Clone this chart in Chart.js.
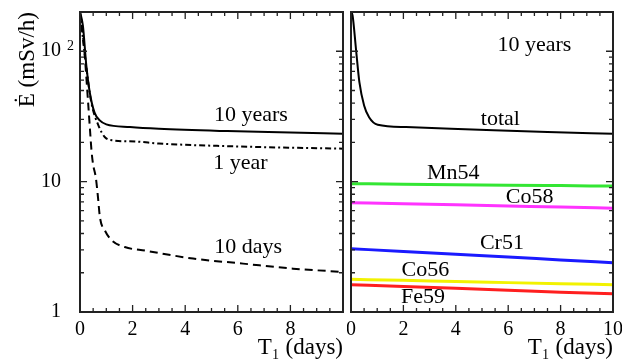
<!DOCTYPE html>
<html lang="en">
<head>
<meta charset="UTF-8">
<title>Dose rate vs T1</title>
<script src="https://cdn.jsdelivr.net/npm/chart.js@4.4.0/dist/chart.umd.min.js"></script>
<style>
  body { margin: 0; background: #fff; }
  .wrap { position: relative; width: 622px; height: 359px; overflow: hidden; }
  #left { position: absolute; left: 0; top: 0; }
  #right { position: absolute; left: 347px; top: 0; }
</style>
</head>
<body>
<div class="wrap">
  <canvas id="left" width="347" height="359"></canvas>
  <canvas id="right" width="275" height="359"></canvas>
</div>
<script>
// left panel: total dose rate after 10 years, 1 year, 10 days
const t10y = [0, 0.11, 0.24, 0.37, 0.55, 0.75, 1.0, 1.9, 3.0, 5.6, 8.0, 10];
const e10y = [200, 157, 78, 48.5, 34, 29.5, 27.5, 26.2, 25.4, 24.4, 23.8, 23.3];
const t1y = [0, 0.2, 0.43, 0.7, 0.95, 1.27, 2.1, 3.0, 5.6, 8.0, 10];
const e1y = [200, 88, 40.6, 27.0, 21.9, 20.7, 20.3, 19.6, 18.7, 18.2, 17.9];
const t10d = [0, 0.15, 0.31, 0.38, 0.44, 0.5, 0.6, 0.67, 0.76, 0.95, 1.2, 1.7, 2.5, 4.3, 6.2, 8.1, 10];
const e10d = [200, 110, 40, 25, 17, 13.5, 10.8, 8.1, 5.3, 4.2, 3.55, 3.15, 2.95, 2.57, 2.35, 2.15, 2.03];

// right panel: 10 years, total and nuclides
const tTot = [0, 0.06, 0.19, 0.32, 0.5, 0.69, 1.02, 2.1, 4.9, 7.5, 10];
const eTot = [200, 188, 104, 58, 38.4, 31.2, 27.3, 26.2, 25.0, 24.0, 23.3];
const tNuc = [0, 2, 4, 6, 8, 10];
const mn54 = [9.65, 9.55, 9.47, 9.40, 9.32, 9.24];
const co58 = [6.90, 6.77, 6.64, 6.51, 6.38, 6.26];
const cr51 = [3.06, 2.91, 2.77, 2.64, 2.51, 2.39];
const co56 = [1.78, 1.75, 1.71, 1.68, 1.65, 1.62];
const fe59 = [1.62, 1.57, 1.52, 1.47, 1.42, 1.38];

const yMajor = [1, 10, 100];
const yMinor = [2, 3, 4, 5, 6, 7, 8, 9, 20, 30, 40, 50, 60, 70, 80, 90, 200];
const xMajor = [0, 2, 4, 6, 8, 10];
const xMinor = [0.5, 1, 1.5, 2.5, 3, 3.5, 4.5, 5, 5.5, 6.5, 7, 7.5, 8.5, 9, 9.5];

// curve labels [text, x, y] in data units
const leftLabels = [['10 years', 6.5, 32.5], ['1 year', 6.1, 13.9], ['10 days', 6.39, 3.15]];
const rightLabels = [['10 years', 7.0, 112], ['total', 5.7, 30.3], ['Mn54', 3.9, 11.7],
  ['Co58', 6.82, 7.63], ['Cr51', 5.76, 3.38], ['Co56', 2.84, 2.10], ['Fe59', 2.75, 1.30]];

const serif = '"Liberation Serif", "DejaVu Serif", serif';
Chart.defaults.color = '#000';

function pts(xs, ys) {
  return xs.map((x, i) => ({ x: x, y: ys[i] }));
}

function frameTicks(labels, sup) {
  return {
    id: 'frameTicks',
    afterDatasetsDraw(chart) {
      const { ctx, chartArea: a, scales: { x, y } } = chart;
      ctx.save();
      ctx.strokeStyle = '#222';
      ctx.lineWidth = 1.3;
      ctx.beginPath();
      const xt = (v, len) => {
        const px = x.getPixelForValue(v);
        ctx.moveTo(px, a.bottom); ctx.lineTo(px, a.bottom - len);
        ctx.moveTo(px, a.top); ctx.lineTo(px, a.top + len);
      };
      const yt = (v, len) => {
        const py = y.getPixelForValue(v);
        ctx.moveTo(a.left, py); ctx.lineTo(a.left + len, py);
        ctx.moveTo(a.right, py); ctx.lineTo(a.right - len, py);
      };
      xMajor.forEach(v => xt(v, 7));
      xMinor.forEach(v => xt(v, 4));
      yMajor.forEach(v => yt(v, 7));
      yMinor.forEach(v => yt(v, 4));
      ctx.stroke();
      ctx.lineWidth = 2;
      ctx.strokeRect(a.left, a.top, a.width, a.height);

      ctx.fillStyle = '#000';
      ctx.font = '22px ' + serif;
      ctx.textAlign = 'center';
      ctx.textBaseline = 'middle';
      labels.forEach(l => ctx.fillText(l[0], x.getPixelForValue(l[1]), y.getPixelForValue(l[2])));
      if (sup) {
        ctx.font = '14px ' + serif;
        ctx.textAlign = 'left';
        ctx.fillText('2', 67, y.getPixelForValue(100) - 5);
      }
      ctx.restore();
    }
  };
}

function line(data, color, width, dash) {
  return {
    data: data, borderColor: color, borderWidth: width, borderDash: dash || [],
    pointRadius: 0, fill: false, cubicInterpolationMode: 'monotone'
  };
}

function xAxis(hideLast) {
  return {
    type: 'linear', min: 0, max: 10,
    grid: { display: false }, border: { display: false },
    afterBuildTicks: s => { s.ticks = xMajor.map(v => ({ value: v })); },
    afterFit: s => { s.height = 47; s.paddingLeft = 0; s.paddingRight = 0; },
    ticks: {
      autoSkip: false, maxRotation: 0, padding: -2,
      font: { family: serif, size: 20 },
      callback: v => (hideLast && v === 10) ? '' : String(v)
    },
    title: {
      display: true, text: 'T\u2081 (days)', align: 'end',
      font: { family: serif, size: 23, lineHeight: 1 }, padding: { top: 0, bottom: 0 }
    }
  };
}

new Chart(document.getElementById('left'), {
  type: 'line',
  data: {
    datasets: [
      line(pts(t10y, e10y), '#000', 2),
      line(pts(t1y, e1y), '#000', 2, [6, 3, 2, 3]),
      line(pts(t10d, e10d), '#000', 2, [8, 5])
    ]
  },
  options: {
    responsive: false, animation: false,
    layout: { padding: { left: 0, top: 12, right: 4, bottom: 0 } },
    plugins: { legend: { display: false }, tooltip: { enabled: false } },
    scales: {
      x: xAxis(true),
      y: {
        type: 'logarithmic', min: 1, max: 200,
        grid: { display: false }, border: { display: false },
        afterBuildTicks: s => { s.ticks = yMajor.map(v => ({ value: v })); },
        afterFit: s => { s.width = 80; s.paddingTop = 0; s.paddingBottom = 0; },
        ticks: {
          padding: 11, font: { family: serif, size: 20 },
          callback: v => v === 100 ? '10' : String(v)
        },
        title: {
          display: true, text: '\u0116 (mSv/h)', align: 'end',
          font: { family: serif, size: 23, lineHeight: 1 }, padding: { top: 16 }
        }
      }
    }
  },
  plugins: [frameTicks(leftLabels, true)]
});

new Chart(document.getElementById('right'), {
  type: 'line',
  data: {
    datasets: [
      line(pts(tTot, eTot), '#000', 2),
      line(pts(tNuc, mn54), '#33e633', 3),
      line(pts(tNuc, co58), '#ff33ff', 3),
      line(pts(tNuc, cr51), '#1a1aff', 3),
      line(pts(tNuc, co56), '#f2f200', 3),
      line(pts(tNuc, fe59), '#ff1f1f', 3)
    ]
  },
  options: {
    responsive: false, animation: false,
    layout: { padding: { left: 4, top: 12, right: 9, bottom: 0 } },
    plugins: { legend: { display: false }, tooltip: { enabled: false } },
    scales: {
      x: xAxis(false),
      y: { type: 'logarithmic', min: 1, max: 200, display: false }
    }
  },
  plugins: [frameTicks(rightLabels, false)]
});
</script>
</body>
</html>
